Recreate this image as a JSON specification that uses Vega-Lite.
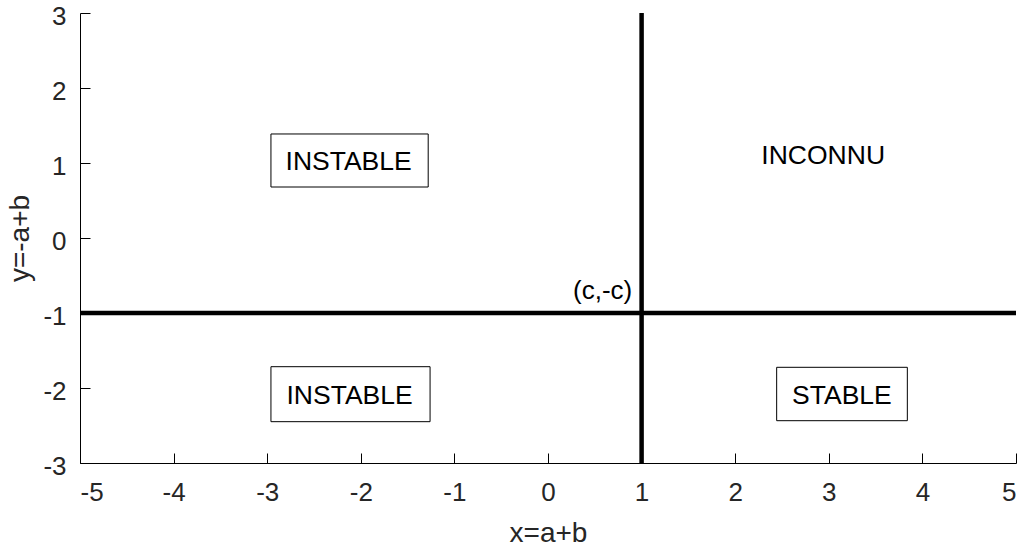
{
  "$schema": "https://vega.github.io/schema/vega-lite/v6.json",
  "width": 936,
  "height": 450,
  "autosize": "none",
  "padding": {"left": 80, "top": 13, "right": 9, "bottom": 89},
  "background": "white",
  "config": {
    "view": {"stroke": null},
    "font": "Liberation Sans",
    "axis": {
      "grid": false,
      "domainColor": "#000000",
      "domainWidth": 1,
      "tickColor": "#000000",
      "tickWidth": 1,
      "tickSize": -10,
      "labelFont": "Liberation Sans",
      "labelFontSize": 26,
      "labelColor": "#262626",
      "labelExpr": "'' + datum.value",
      "titleFont": "Liberation Sans",
      "titleFontSize": 28,
      "titleFontWeight": "normal",
      "titleColor": "#262626"
    }
  },
  "datasets": {
    "lines": [
      {"x": 1, "x2": 1, "y": -3, "y2": 3},
      {"x": -5, "x2": 5, "y": -1, "y2": -1}
    ],
    "boxes": [
      {"x": -2.96, "x2": -1.28, "y": 1.387, "y2": 0.68},
      {"x": -2.96, "x2": -1.26, "y": -1.716, "y2": -2.449},
      {"x": 2.443, "x2": 3.839, "y": -1.724, "y2": -2.436}
    ],
    "labels": [
      {"x": -2.13, "y": 1.02, "label": "INSTABLE"},
      {"x": -2.12, "y": -2.1, "label": "INSTABLE"},
      {"x": 3.14, "y": -2.1, "label": "STABLE"},
      {"x": 2.94, "y": 1.1, "label": "INCONNU"}
    ],
    "corner": [
      {"x": 0.9, "y": -0.7, "label": "(c,-c)"}
    ]
  },
  "layer": [
    {
      "data": {"name": "lines"},
      "mark": {"type": "rule", "color": "#000000", "strokeWidth": 4.5},
      "encoding": {
        "x": {"field": "x", "type": "quantitative", "scale": {"domain": [-5, 5], "nice": false, "zero": false},
              "axis": {"title": "x=a+b", "values": [-5, -4, -3, -2, -1, 0, 1, 2, 3, 4, 5], "labelPadding": 26, "titlePadding": 14}},
        "x2": {"field": "x2"},
        "y": {"field": "y", "type": "quantitative", "scale": {"domain": [-3, 3], "nice": false, "zero": false},
              "axis": {"title": "y=-a+b", "values": [-3, -2, -1, 0, 1, 2, 3], "labelPadding": 24, "labelOffset": 3, "titlePadding": 8}},
        "y2": {"field": "y2"}
      }
    },
    {
      "data": {"name": "boxes"},
      "mark": {"type": "rect", "fill": "white", "stroke": "#000000", "strokeWidth": 1},
      "encoding": {
        "x": {"field": "x", "type": "quantitative"},
        "x2": {"field": "x2"},
        "y": {"field": "y", "type": "quantitative"},
        "y2": {"field": "y2"}
      }
    },
    {
      "data": {"name": "labels"},
      "mark": {"type": "text", "fontSize": 26.5, "color": "#000000", "baseline": "middle", "align": "center"},
      "encoding": {
        "x": {"field": "x", "type": "quantitative"},
        "y": {"field": "y", "type": "quantitative"},
        "text": {"field": "label"}
      }
    },
    {
      "data": {"name": "corner"},
      "mark": {"type": "text", "fontSize": 26, "color": "#000000", "baseline": "middle", "align": "right"},
      "encoding": {
        "x": {"field": "x", "type": "quantitative"},
        "y": {"field": "y", "type": "quantitative"},
        "text": {"field": "label"}
      }
    }
  ]
}
